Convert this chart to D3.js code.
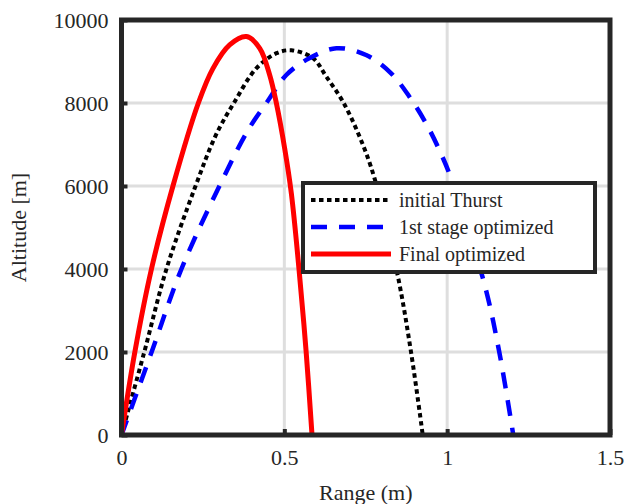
<!DOCTYPE html>
<html>
<head>
<meta charset="utf-8">
<script src="https://cdn.jsdelivr.net/npm/d3@7"></script>
<style>
  body { margin: 0; background: #fff; }
  text { font-family: "Liberation Serif", "Times New Roman", serif; fill: #262626; }
</style>
</head>
<body>
<div id="chart"></div>
<script>
// range (m), altitude (m)
var initialRange = [0, 0.07, 0.138, 0.225, 0.29, 0.345, 0.414, 0.476, 0.522, 0.588, 0.629, 0.68, 0.731, 0.777, 0.848, 0.889, 0.925];
var initialAlt   = [0, 2000, 4000, 5950, 7230, 8000, 8835, 9200, 9270, 9080, 8634, 8030, 7190, 6185, 3850, 2000, 0];

var stage1Range = [0, 0.0925, 0.184, 0.302, 0.389, 0.445, 0.506, 0.575, 0.66, 0.751, 0.828, 0.884, 0.935, 0.976, 1.012, 1.114, 1.16, 1.203];
var stage1Alt   = [0, 2000, 4000, 6020, 7350, 8000, 8675, 9070, 9320, 9157, 8715, 8152, 7510, 6867, 6185, 3650, 2000, 0];

var finalRange = [0, 0.041, 0.092, 0.158, 0.236, 0.281, 0.332, 0.384, 0.4245, 0.455, 0.4756, 0.501, 0.5215, 0.545, 0.567, 0.585];
var finalAlt   = [0, 2000, 4000, 6000, 8000, 8835, 9400, 9600, 9318, 8675, 7993, 6908, 5824, 4000, 2000, 0];

var xTicks = [0, 0.5, 1, 1.5];
var yTicks = [0, 2000, 4000, 6000, 8000, 10000];
var seriesNames = ["initial Thurst", "1st stage optimized", "Final optimized"];

var W = 625, H = 504;
var margin = {left: 121.5, right: 15, top: 20, bottom: 69};
var iw = W - margin.left - margin.right,
    ih = H - margin.top - margin.bottom;

var svg = d3.select("#chart").append("svg")
  .attr("width", W).attr("height", H);

var x = d3.scaleLinear().domain([0, 1.5]).range([0, iw]);
var y = d3.scaleLinear().domain([0, 10000]).range([ih, 0]);

var g = svg.append("g").attr("transform", "translate(" + margin.left + "," + margin.top + ")");

// grid
g.selectAll(".gx").data(xTicks.slice(1, -1)).enter().append("line")
  .attr("x1", x).attr("x2", x).attr("y1", 0).attr("y2", ih)
  .attr("stroke", "#dedede").attr("stroke-width", 3);
g.selectAll(".gy").data(yTicks.slice(1, -1)).enter().append("line")
  .attr("y1", y).attr("y2", y).attr("x1", 0).attr("x2", iw)
  .attr("stroke", "#dedede").attr("stroke-width", 3);

svg.append("clipPath").attr("id", "clip").append("rect")
  .attr("x", -3).attr("y", -3).attr("width", iw + 6).attr("height", ih + 6);

var series = [
  {xs: initialRange, ys: initialAlt, color: "#000", dash: "4.5,3.5", w: 4},
  {xs: stage1Range, ys: stage1Alt, color: "#0000ff", dash: "16,12", w: 4.5},
  {xs: finalRange, ys: finalAlt, color: "#ff0000", dash: null, w: 5}
];

var line = d3.line()
  .x(function(d) { return x(d[0]); })
  .y(function(d) { return y(d[1]); })
  .curve(d3.curveCatmullRom.alpha(0.5));

g.append("g").attr("clip-path", "url(#clip)")
  .selectAll("path").data(series).enter().append("path")
  .attr("d", function(s) { return line(d3.zip(s.xs, s.ys)); })
  .attr("fill", "none")
  .attr("stroke", function(s) { return s.color; })
  .attr("stroke-width", function(s) { return s.w; })
  .attr("stroke-dasharray", function(s) { return s.dash; })
  .attr("stroke-linejoin", "round");

// axes: inward ticks, box
var xAxis = g.append("g").attr("transform", "translate(0," + ih + ")")
  .call(d3.axisBottom(x).tickValues(xTicks).tickSizeInner(-6).tickSizeOuter(0).tickPadding(14)
    .tickFormat(function(d) { return d; }));
var yAxis = g.append("g")
  .call(d3.axisLeft(y).tickValues(yTicks).tickSizeInner(-6).tickSizeOuter(0).tickPadding(13)
    .tickFormat(function(d) { return d; }));
[xAxis, yAxis].forEach(function(a) {
  a.select(".domain").remove();
  a.selectAll(".tick line").attr("stroke", "#262626").attr("stroke-width", 4);
  a.selectAll(".tick text").attr("font-size", 22).attr("font-family", "Liberation Serif").attr("fill", "#262626");
});
g.append("rect").attr("width", iw).attr("height", ih)
  .attr("fill", "none").attr("stroke", "#262626").attr("stroke-width", 5);

svg.append("text").attr("x", margin.left + iw / 2).attr("y", 500)
  .attr("text-anchor", "middle").attr("font-size", 22).text("Range (m)");
svg.append("text").attr("transform", "translate(26," + (margin.top + ih / 2) + ") rotate(-90)")
  .attr("text-anchor", "middle").attr("font-size", 22).text("Altitude [m]");

// legend
var lg = svg.append("g").attr("transform", "translate(303,183)");
lg.append("rect").attr("width", 292).attr("height", 89)
  .attr("fill", "#fff").attr("stroke", "#262626").attr("stroke-width", 4);
var rows = lg.selectAll(".row").data(series).enter().append("g")
  .attr("transform", function(d, i) { return "translate(0," + (17 + i * 27) + ")"; });
rows.append("line").attr("x1", 8).attr("x2", 88)
  .attr("stroke", function(s) { return s.color; })
  .attr("stroke-width", function(s) { return s.w; })
  .attr("stroke-dasharray", function(s) { return s.dash; });
rows.append("text").attr("x", 96).attr("dy", "0.35em").attr("font-size", 20)
  .text(function(d, i) { return seriesNames[i]; });
</script>
</body>
</html>
